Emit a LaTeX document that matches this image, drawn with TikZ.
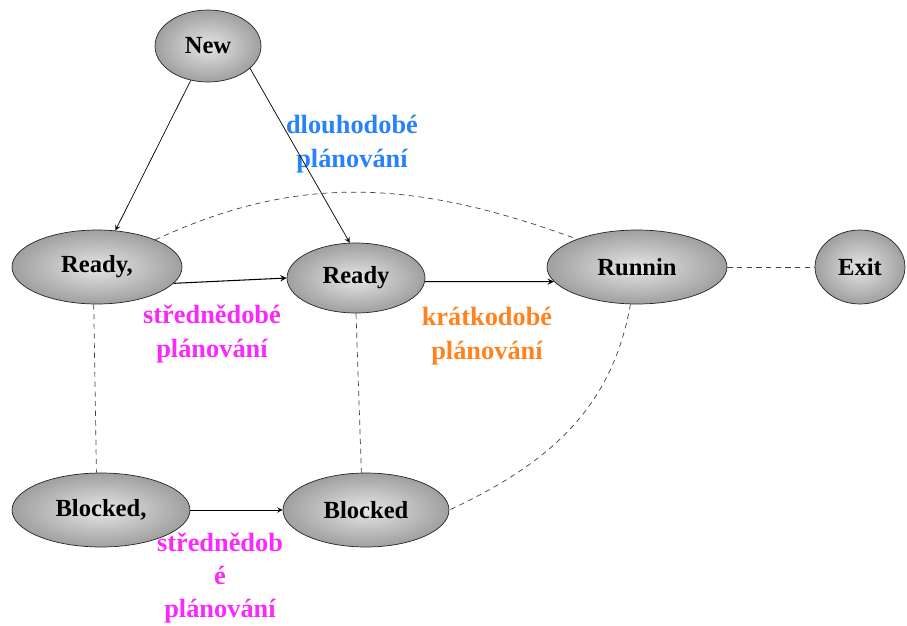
\documentclass[tikz,border=0pt]{standalone}
\usepackage{fontspec}
\setmainfont{Liberation Serif}
\usetikzlibrary{shapes.geometric}
\definecolor{longblue}{RGB}{40,130,250}
\definecolor{midpink}{RGB}{250,40,250}
\definecolor{shortorange}{RGB}{255,130,30}
\begin{document}
\begin{tikzpicture}[x=0.02cm,y=-0.02cm,>=stealth,line join=round,
	state/.style={ellipse,draw=black!85,inner sep=0pt,minimum height=1.48cm,inner color=gray!20,outer color=gray!75,font=\fontsize{14}{16}\selectfont\bfseries},
	plan/.style={align=center,font=\fontsize{15}{19}\selectfont\bfseries},
	link/.style={black!75,dash pattern=on 3pt off 2.5pt}]
	\useasboundingbox (0,0) rectangle (907,626);
	\node[state,minimum width=2.12cm,minimum height=1.44cm] (new) at (208,46) {New};
	\node[state,minimum width=3.4cm] (readyA) at (97,267) {Ready,};
	\node[state,minimum width=2.76cm,minimum height=1.4cm] (ready) at (356,278) {Ready};
	\node[state,minimum width=3.6cm] (run) at (637,267) {Runnin};
	\node[state,minimum width=1.8cm] (exit) at (860,267) {Exit};
	\node[state,minimum width=3.56cm] (blockA) at (101,510) {Blocked,};
	\node[state,minimum width=3.32cm] (block) at (366,510) {Blocked};
	% planovani
	\node[plan,text=longblue] (long) at (352,144) {dlouhodobé\\plánování};
	\node[plan,text=midpink] (midA) at (212,334) {střednědobé\\plánování};
	\node[plan,text=shortorange] (short) at (487,336) {krátkodobé\\plánování};
	\node[plan,text=midpink] (midB) at (220,578) {střednědob\\é\\plánování};
	% prechody
	\draw[->] (new) -- (readyA);
	\draw[->] (new.-28) -- (ready.100);
	\draw[->,semithick] (readyA.-12) -- (ready.west);
	\draw[->,semithick] (ready.-3) -- (run.190);
	\draw[->] (blockA.east) -- (block.west);
	\draw[link] (readyA.25) to[out=25,in=160] (run.155);
	\draw[link] (run.east) -- (exit.west);
	\draw[link] (readyA.-95) -- (blockA.97);
	\draw[link] (ready.south) -- (block.97);
	\draw[link] (run.-100) to[out=-100,in=25] (block.east);
\end{tikzpicture}
\end{document}
